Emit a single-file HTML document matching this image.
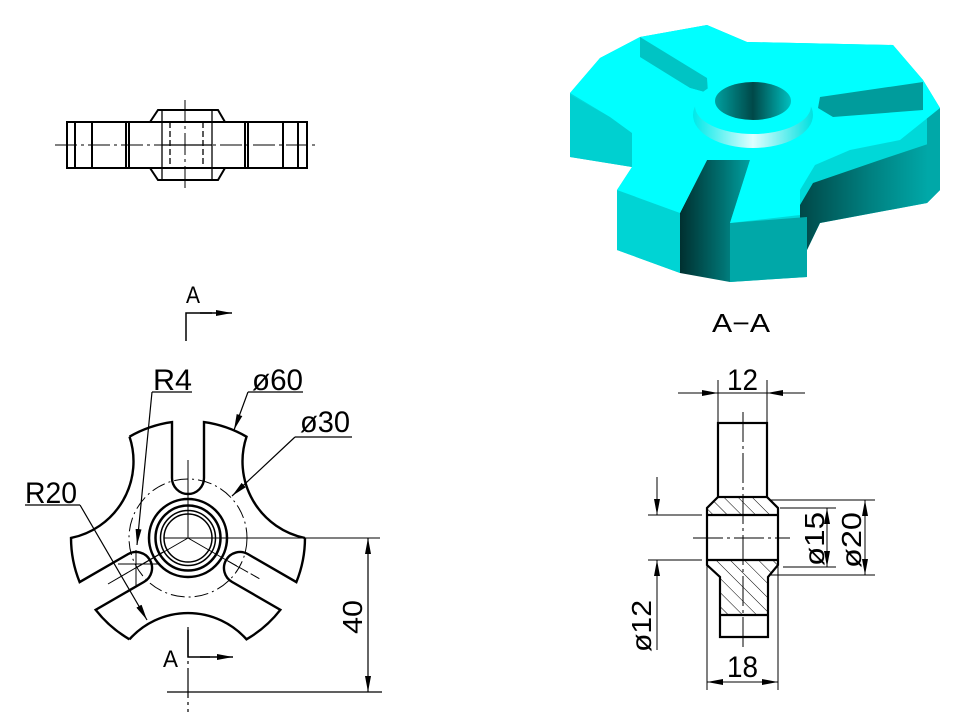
<!DOCTYPE html>
<html><head><meta charset="utf-8"><style>
html,body{margin:0;padding:0;background:#fff;}
svg{display:block;}
text{font-family:"Liberation Sans","DejaVu Sans",sans-serif;fill:#000;}
</style></head><body>
<svg width="960" height="720" viewBox="0 0 960 720" xmlns="http://www.w3.org/2000/svg">
<defs>
<marker id="ar" viewBox="0 0 16 7" refX="16" refY="3.5" markerWidth="16" markerHeight="7" markerUnits="userSpaceOnUse" orient="auto-start-reverse"><path d="M0,0.5 L16,3.5 L0,6.5 z" fill="#000"/></marker>
<linearGradient id="gR" x1="0" y1="0" x2="1" y2="0"><stop offset="0" stop-color="#004848"/><stop offset="0.5" stop-color="#008080"/><stop offset="1" stop-color="#00b0b0"/></linearGradient>
<linearGradient id="gS" x1="0" y1="0" x2="1" y2="0"><stop offset="0" stop-color="#003030"/><stop offset="0.6" stop-color="#007070"/><stop offset="1" stop-color="#00a0a0"/></linearGradient>
<linearGradient id="gH" x1="0" y1="0" x2="1" y2="0"><stop offset="0" stop-color="#00a0a0"/><stop offset="0.5" stop-color="#004848"/><stop offset="1" stop-color="#00c0c0"/></linearGradient>
<linearGradient id="gC" x1="0" y1="0" x2="1" y2="0"><stop offset="0" stop-color="#00e8e8"/><stop offset="0.5" stop-color="#e0ffff"/><stop offset="1" stop-color="#00e0e0"/></linearGradient>
<pattern id="hatch" width="10" height="10" patternUnits="userSpaceOnUse" patternTransform="rotate(-45)"><line x1="0" y1="0" x2="0" y2="10" stroke="#000" stroke-width="1"/></pattern>
</defs>

<g>
<polygon points="570,93 600,58 640,37 707,25 747,42 893,45 923,80 940,108 940,190 927,203 820,223 807,250 807,277 730,282 730,223 707,160 680,213 680,273 617,250 617,190 632,167 570,157" fill="#00d8d8"/>
<polygon points="813,183 880,160 940,140 940,190 927,203 820,223 807,250 807,277 800,250 800,205" fill="url(#gR)"/>
<polygon points="923,100 940,108 940,190 927,203 927,120" fill="#00a8a8"/>
<polygon points="570,95 570,157 632,167 632,133 610,117" fill="#00d0d0"/>
<polygon points="617,190 680,213 680,273 617,250" fill="#00d4d4"/>
<polygon points="730,223 807,217 807,277 730,282" fill="#00a8a8"/>
<polygon points="707,160 750,160 730,223 730,282 680,273 680,213" fill="url(#gS)"/>
<polygon points="570,93 600,58 640,37 707,25 747,42 893,45 923,80 940,108 900,140 850,150 815,165 800,190 800,215 730,223 750,160 707,160 680,213 617,190 632,167 632,133 610,117" fill="#00ffff"/>
<polygon points="640,37 707,78 708,93 690,88 640,58" fill="#00c4c4"/>
<polygon points="610,60 640,57 690,88 708,93 650,95 618,70" fill="#00ffff"/>
<polygon points="820,97 923,82 923,110 833,117 818,108" fill="#009c9c"/>
<ellipse cx="753" cy="115" rx="60" ry="33" fill="url(#gC)"/>
<ellipse cx="753" cy="106" rx="58" ry="28" fill="#00ffff"/>
<ellipse cx="753" cy="101" rx="38" ry="19" fill="url(#gH)"/>
</g>
<text x="712" y="332" font-size="26" textLength="58" lengthAdjust="spacingAndGlyphs">A−A</text>

<g stroke="#000" fill="none">
<line x1="55" y1="145" x2="317" y2="145" stroke-width="1" stroke-dasharray="22,4,3,4"/>
<line x1="185" y1="100" x2="185" y2="192" stroke-width="1" stroke-dasharray="22,4,3,4"/>
<rect x="67" y="122" width="240" height="46" stroke-width="2"/>
<path d="M150,122 L158,110 L218,110 L225,122 M150,168 L158,180 L218,180 L225,168" stroke-width="2"/>
<g stroke-width="2">
<line x1="75" y1="122" x2="75" y2="168"/><line x1="92" y1="122" x2="92" y2="168"/>
<line x1="126" y1="122" x2="126" y2="168"/><line x1="129" y1="122" x2="129" y2="168"/>
<line x1="245" y1="122" x2="245" y2="168"/><line x1="248" y1="122" x2="248" y2="168"/>
<line x1="283" y1="122" x2="283" y2="168"/><line x1="298" y1="122" x2="298" y2="168"/>
</g>
<g stroke-width="1.3">
<line x1="162" y1="110" x2="162" y2="180"/><line x1="212" y1="110" x2="212" y2="180"/>
<line x1="170" y1="122" x2="170" y2="168" stroke-dasharray="6,3"/><line x1="203" y1="122" x2="203" y2="168" stroke-dasharray="6,3"/>
<line x1="162" y1="145" x2="212" y2="145"/>
</g>
</g>

<text x="186" y="303" font-size="24" textLength="14" lengthAdjust="spacingAndGlyphs">A</text>
<path d="M186,341 L186,313 L212,313" stroke="#000" stroke-width="1.5" fill="none"/>
<line x1="200" y1="313" x2="232" y2="313" stroke="#000" stroke-width="1.5" marker-end="url(#ar)"/>
<text x="163" y="667" font-size="24" textLength="15" lengthAdjust="spacingAndGlyphs">A</text>
<path d="M188,630 L188,657 L210,657" stroke="#000" stroke-width="1.5" fill="none"/>
<line x1="200" y1="657" x2="233" y2="657" stroke="#000" stroke-width="1.5" marker-end="url(#ar)"/>

<g transform="translate(188,538)" stroke="#000" fill="none">
<g id="sec" stroke-width="2.4">
<path d="M -58.5 -101.3 A 117 117 0 0 1 -16 -115.9 L -16 -60 A 16 16 0 0 0 16 -60 L 16 -115.9 A 117 117 0 0 1 58.5 -101.3 A 78.2 78.2 0 0 0 117 0"/>
</g>
<use href="#sec" transform="rotate(120)"/>
<use href="#sec" transform="rotate(240)"/>
<circle r="59" stroke-width="1" stroke-dasharray="14,4,2,4"/>
<circle r="39" stroke-width="2.5"/>
<circle r="32.5" stroke-width="2.5"/>
<circle r="27.5" stroke-width="1.5"/>
<circle r="24" stroke-width="1.5"/>
<g stroke-width="1">
<line x1="0" y1="-78" x2="0" y2="0"/>
<line x1="-24" y1="0" x2="192" y2="0"/>
<line x1="0" y1="0" x2="-52" y2="30"/>
<line x1="0" y1="0" x2="52" y2="30"/>
<line x1="-80" y1="46" x2="-25" y2="14" />
<line x1="-52" y1="12" x2="-52" y2="48"/>
<line x1="-70" y1="26" x2="-30" y2="26"/>
<line x1="40" y1="23" x2="72" y2="41" stroke-dasharray="10,3"/>
</g>
</g>
<g stroke="#000" stroke-width="1.2">
<line x1="167" y1="692" x2="382" y2="692"/>
<line x1="368" y1="560" x2="368" y2="538" marker-end="url(#ar)"/>
<line x1="368" y1="560" x2="368" y2="692" marker-end="url(#ar)"/>
<line x1="188" y1="627" x2="188" y2="712" stroke-dasharray="30,4,3,4"/>
</g>
<text transform="translate(362,634) rotate(-90)" font-size="28" textLength="34" lengthAdjust="spacingAndGlyphs">40</text>

<g stroke="#000" stroke-width="1.2" fill="none">
<line x1="152" y1="392" x2="192" y2="392"/>
<line x1="152" y1="392" x2="137" y2="545" marker-end="url(#ar)"/>
<line x1="25" y1="505" x2="80" y2="505"/>
<line x1="80" y1="505" x2="147" y2="620" marker-end="url(#ar)"/>
<line x1="248" y1="392" x2="303" y2="392"/>
<line x1="248" y1="392" x2="234" y2="430" marker-end="url(#ar)"/>
<line x1="295" y1="437" x2="352" y2="437"/>
<line x1="295" y1="437" x2="232" y2="496" marker-end="url(#ar)"/>
</g>
<text x="153" y="390" font-size="30" textLength="39" lengthAdjust="spacingAndGlyphs">R4</text>
<text x="252" y="390" font-size="30" textLength="51" lengthAdjust="spacingAndGlyphs">ø60</text>
<text x="25" y="503" font-size="30" textLength="52" lengthAdjust="spacingAndGlyphs">R20</text>
<text x="300" y="432" font-size="30" textLength="50" lengthAdjust="spacingAndGlyphs">ø30</text>

<g stroke="#000" fill="none">
<path d="M718,497 L767,497 L778,508 L778,515 L707,515 L707,508 Z" fill="url(#hatch)" stroke="none"/>
<path d="M707,560 L778,560 L778,565 L768,577 L768,615 L720,615 L720,577 L707,565 Z" fill="url(#hatch)" stroke="none"/>
<g stroke-width="2.2">
<rect x="718" y="423" width="49" height="74"/>
<path d="M718,497 L707,508 L707,565 L720,577 L720,637 L768,637 L768,577 L778,565 L778,508 L767,497"/>
<line x1="707" y1="515" x2="778" y2="515"/>
<line x1="707" y1="560" x2="778" y2="560"/>
<line x1="720" y1="615" x2="768" y2="615"/>
</g>
<g stroke-width="1">
<line x1="743" y1="412" x2="743" y2="650" stroke-dasharray="30,4,3,4"/>
<line x1="693" y1="538" x2="790" y2="538" stroke-dasharray="30,4,3,4"/>
<line x1="718" y1="380" x2="718" y2="423"/><line x1="767" y1="380" x2="767" y2="423"/>
<line x1="678" y1="393" x2="718" y2="393" marker-end="url(#ar)"/>
<line x1="805" y1="393" x2="767" y2="393" marker-end="url(#ar)"/>
<line x1="718" y1="393" x2="767" y2="393"/>
<line x1="707" y1="565" x2="707" y2="690"/><line x1="778" y1="565" x2="778" y2="690"/>
<line x1="730" y1="682" x2="707" y2="682" marker-end="url(#ar)"/>
<line x1="755" y1="682" x2="778" y2="682" marker-end="url(#ar)"/>
<line x1="707" y1="682" x2="778" y2="682"/>
<line x1="770" y1="500" x2="875" y2="500"/>
<line x1="780" y1="508" x2="836" y2="508"/>
<line x1="783" y1="567" x2="836" y2="567"/>
<line x1="770" y1="575" x2="875" y2="575"/>
<line x1="827" y1="530" x2="827" y2="508" marker-end="url(#ar)"/>
<line x1="827" y1="545" x2="827" y2="567" marker-end="url(#ar)"/>
<line x1="827" y1="508" x2="827" y2="567"/>
<line x1="865" y1="525" x2="865" y2="500" marker-end="url(#ar)"/>
<line x1="865" y1="550" x2="865" y2="575" marker-end="url(#ar)"/>
<line x1="865" y1="500" x2="865" y2="575"/>
<line x1="648" y1="515" x2="702" y2="515"/>
<line x1="648" y1="560" x2="702" y2="560"/>
<line x1="657" y1="477" x2="657" y2="515" marker-end="url(#ar)"/>
<line x1="657" y1="650" x2="657" y2="560" marker-end="url(#ar)"/>
</g>
</g>
<text x="727" y="390" font-size="30" textLength="31" lengthAdjust="spacingAndGlyphs">12</text>
<text x="727" y="677" font-size="30" textLength="31" lengthAdjust="spacingAndGlyphs">18</text>
<text transform="translate(824,566) rotate(-90)" font-size="28" textLength="54" lengthAdjust="spacingAndGlyphs">ø15</text>
<text transform="translate(861,568) rotate(-90)" font-size="28" textLength="56" lengthAdjust="spacingAndGlyphs">ø20</text>
<text transform="translate(651,652) rotate(-90)" font-size="28" textLength="52" lengthAdjust="spacingAndGlyphs">ø12</text>
</svg>
</body></html>
